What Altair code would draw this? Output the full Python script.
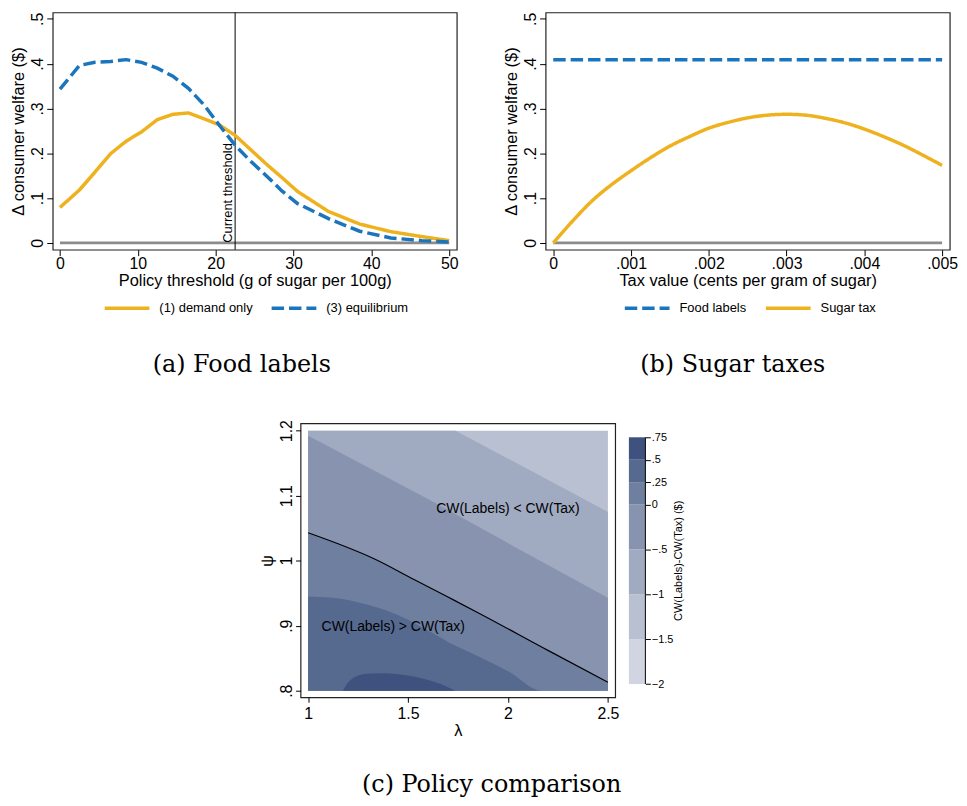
import altair as alt
import pandas as pd

# ---------------- data: panel (a) food labels ----------------
threshold = [0, 2.5, 4.5, 6.5, 8.5, 10.5, 12.5, 14.5, 16.5, 18.5, 20.5,
             22.5, 24.5, 26.5, 28.5, 30.5, 34.5, 38.5, 42.5, 46.5, 50]
demand_only = [0.079, 0.118, 0.158, 0.199, 0.227, 0.248, 0.275, 0.287, 0.290, 0.277, 0.263,
               0.240, 0.208, 0.176, 0.146, 0.115, 0.070, 0.042, 0.025, 0.014, 0.005]
equilibrium = [0.343, 0.396, 0.403, 0.405, 0.409, 0.403, 0.390, 0.372, 0.345, 0.308, 0.262,
               0.218, 0.182, 0.150, 0.116, 0.088, 0.054, 0.026, 0.011, 0.005, 0.002]
current_threshold = 22.5
series_a = ["(1) demand only", "(3) equilibrium"]

# ---------------- data: panel (b) sugar taxes ----------------
tax_value = [0.0, 0.00025, 0.0005, 0.00075, 0.001, 0.00125, 0.0015, 0.00175, 0.002, 0.00225,
             0.0025, 0.00275, 0.003, 0.00325, 0.0035, 0.00375, 0.004, 0.00425, 0.0045,
             0.00475, 0.005]
sugar_tax = [0.000, 0.049, 0.094, 0.130, 0.161, 0.190, 0.216, 0.237, 0.256, 0.269,
             0.279, 0.285, 0.287, 0.285, 0.278, 0.268, 0.254, 0.237, 0.218, 0.196, 0.173]
food_labels_tax = [0.0, 0.005]
food_labels_cw = [0.409, 0.409]
series_b = ["Food labels", "Sugar tax"]

# ---------------- data: panel (c) contour boundaries (lambda, psi) ----------------
lev_m1_lam = [1.0, 1.738, 2.5]
lev_m1_psi = [1.2, 1.2, 1.075]
lev_m05_lam = [1.0, 1.6, 2.0, 2.5]
lev_m05_psi = [1.192, 1.095, 1.027, 0.943]
lev_0_lam = [1.0, 1.15, 1.33, 1.53, 1.7, 1.85, 2.2, 2.5]
lev_0_psi = [1.043, 1.026, 1.003, 0.971, 0.944, 0.920, 0.862, 0.813]
lev_025_lam = [1.0, 1.12, 1.29, 1.46, 1.62, 1.7, 1.85, 2.0, 2.17, 2.5]
lev_025_psi = [0.945, 0.943, 0.933, 0.915, 0.889, 0.875, 0.853, 0.830, 0.800, 0.800]
lev_05_lam = [1.174, 1.207, 1.29, 1.373, 1.506, 1.638, 1.738]
lev_05_psi = [0.800, 0.815, 0.826, 0.827, 0.823, 0.813, 0.800]
lam_range = [1.0, 2.5]
psi_range = [0.8, 1.2]
region_labels = ["CW(Labels) < CW(Tax)", "CW(Labels) > CW(Tax)"]
region_lam = [2.0, 1.426]
region_psi = [1.079, 0.898]

band_lo = [-2, -1.5, -1, -0.5, 0, 0.25, 0.5]
band_hi = [-1.5, -1, -0.5, 0, 0.25, 0.5, 0.75]
band_names = ["b1", "b2", "b3", "b4", "b5", "b6", "b7"]
band_colors = ["#D0D5E1", "#B9C0D1", "#A0AAC0", "#8894AF", "#6E7FA0", "#56698F", "#3F517E"]
colorbar_ticks = [-2, -1.5, -1, -0.5, 0, 0.25, 0.5, 0.75]

BLUE = "#1A75BC"
YELLOW = "#EFB21F"
GRAY = "#8C8C8C"
FONT = "Liberation Sans"
SERIF = "DejaVu Serif"
LEADZ = "replace(format(datum.value, ''), '0.', '.')"

W_TOP, H_TOP = 406.6, 238.7

# ---------------- panel (a) ----------------
sx_a = alt.Scale(domain=[-0.93, 50.97], nice=False, zero=False)
sy_top = alt.Scale(domain=[-0.0152, 0.5143], nice=False, zero=False)
ax_y_top = alt.Axis(values=[0, 0.1, 0.2, 0.3, 0.4, 0.5], labelExpr=LEADZ, labelAngle=270,
                    labelAlign="center", labelBaseline="bottom", labelPadding=1.5,
                    title="Δ consumer welfare ($)", titlePadding=3)
ax_x_a = alt.Axis(values=[0, 10, 20, 30, 40, 50], title="Policy threshold (g of sugar per 100g)",
                  labelPadding=0, titlePadding=1)


def xa(f):
    return alt.X(f"{f}:Q", scale=sx_a, axis=ax_x_a)


def ytop(f):
    return alt.Y(f"{f}:Q", scale=sy_top, axis=ax_y_top)


def legend(lx, ly):
    return alt.Legend(title=None, orient="none", legendX=lx, legendY=ly, direction="horizontal",
                      symbolType="stroke", symbolSize=2025, symbolStrokeWidth=3.5,
                      labelFontSize=13, labelFont=FONT, labelColor="black",
                      columnPadding=12, labelOffset=8, padding=0)


CAPTION = dict(orient="bottom", anchor="middle", font=SERIF, fontSize=24,
               fontWeight="normal", color="black")

df_zero_a = pd.DataFrame({"x0": [0], "x1": [50], "y": [0]})
zero_a = alt.Chart(df_zero_a).mark_rule(color=GRAY, strokeWidth=3).encode(
    x=xa("x0"), x2="x1", y=ytop("y"))
df_thr = pd.DataFrame({"x0": [current_threshold], "y": [0], "t": ["Current threshold"]})
vline = alt.Chart(df_thr).mark_rule(color="black", strokeWidth=1).encode(x=xa("x0"))
vtext = alt.Chart(df_thr).mark_text(angle=270, align="left", baseline="bottom", fontSize=13,
                                    font=FONT, color="black").encode(
    x=xa("x0"), y=ytop("y"), text="t:N")

df_a = pd.DataFrame({
    "x0": threshold + threshold,
    "y": demand_only + equilibrium,
    "series": [series_a[0]] * len(threshold) + [series_a[1]] * len(threshold),
})
leg_a = legend(50.3, 273)
lines_a = alt.Chart(df_a).mark_line(strokeWidth=3.5, strokeCap="butt").encode(
    x=xa("x0"), y=ytop("y"),
    color=alt.Color("series:N", scale=alt.Scale(domain=series_a, range=[YELLOW, BLUE]), legend=leg_a),
    strokeDash=alt.StrokeDash("series:N", scale=alt.Scale(domain=series_a, range=[[1, 0], [12.5, 5]]),
                              legend=leg_a),
)
A = alt.layer(zero_a, vline, vtext, lines_a).properties(
    width=W_TOP, height=H_TOP,
    title=alt.Title("(a) Food labels", offset=38, dx=-13, **CAPTION))

# ---------------- panel (b) ----------------
sx_b = alt.Scale(domain=[-0.0000984, 0.0050984], nice=False, zero=False)
ax_x_b = alt.Axis(values=[0, 0.001, 0.002, 0.003, 0.004, 0.005], labelExpr=LEADZ,
                  title="Tax value (cents per gram of sugar)", labelPadding=0, titlePadding=1)


def xb(f):
    return alt.X(f"{f}:Q", scale=sx_b, axis=ax_x_b)


df_zero_b = pd.DataFrame({"x0": [0], "x1": [0.005], "y": [0]})
zero_b = alt.Chart(df_zero_b).mark_rule(color=GRAY, strokeWidth=3).encode(
    x=xb("x0"), x2="x1", y=ytop("y"))
df_b = pd.DataFrame({
    "x0": food_labels_tax + tax_value,
    "y": food_labels_cw + sugar_tax,
    "series": [series_b[0]] * len(food_labels_tax) + [series_b[1]] * len(tax_value),
})
leg_b = legend(77.7, 273)
lines_b = alt.Chart(df_b).mark_line(strokeWidth=3.5, strokeCap="butt", interpolate="monotone").encode(
    x=xb("x0"), y=ytop("y"),
    color=alt.Color("series:N", scale=alt.Scale(domain=series_b, range=[BLUE, YELLOW]), legend=leg_b),
    strokeDash=alt.StrokeDash("series:N", scale=alt.Scale(domain=series_b, range=[[12.5, 5], [1, 0]]),
                              legend=leg_b),
)
B = alt.layer(zero_b, lines_b).properties(
    width=406.7, height=H_TOP,
    title=alt.Title("(b) Sugar taxes", offset=38, dx=-15, **CAPTION))

# ---------------- panel (c) ----------------
sx_c = alt.Scale(domain=[0.9622, 2.5363], nice=False, zero=False)
sy_c = alt.Scale(domain=[0.7899, 1.2112], nice=False, zero=False)
ax_x_c = alt.Axis(values=[1, 1.5, 2, 2.5], labelExpr="format(datum.value, '')", title="λ",
                  tickSize=5, labelPadding=3, titlePadding=1)
ax_y_c = alt.Axis(values=[0.8, 0.9, 1, 1.1, 1.2], labelExpr=LEADZ, labelAngle=270,
                  labelAlign="center", labelBaseline="bottom", tickSize=5, labelPadding=1,
                  title="ψ", titlePadding=3)


def xc(f):
    return alt.X(f"{f}:Q", scale=sx_c, axis=ax_x_c)


def yc(f):
    return alt.Y(f"{f}:Q", scale=sy_c, axis=ax_y_c)


df_base = pd.DataFrame({"lam": [lam_range[0]], "lam2": [lam_range[1]],
                        "psi": [psi_range[0]], "psi2": [psi_range[1]]})
base_c = alt.Chart(df_base).mark_rect(color=band_colors[1]).encode(
    x=xc("lam"), x2="lam2", y=yc("psi"), y2="psi2")

layers_c = [base_c]
for lams, psis, col, interp in [(lev_m1_lam, lev_m1_psi, band_colors[2], "linear"),
                                (lev_m05_lam, lev_m05_psi, band_colors[3], "linear"),
                                (lev_0_lam, lev_0_psi, band_colors[4], "monotone"),
                                (lev_025_lam, lev_025_psi, band_colors[5], "monotone"),
                                (lev_05_lam, lev_05_psi, band_colors[6], "monotone")]:
    dfl = pd.DataFrame({"lam": lams, "psi": psis})
    layers_c.append(alt.Chart(dfl).mark_area(color=col, opacity=1, interpolate=interp).encode(
        x=xc("lam"), y=yc("psi"), y2=alt.datum(psi_range[0])))

df_zero_c = pd.DataFrame({"lam": lev_0_lam, "psi": lev_0_psi})
layers_c.append(alt.Chart(df_zero_c).mark_line(color="black", strokeWidth=1.2,
                                               interpolate="monotone").encode(
    x=xc("lam"), y=yc("psi")))
df_lab = pd.DataFrame({"lam": region_lam, "psi": region_psi, "label": region_labels})
layers_c.append(alt.Chart(df_lab).mark_text(font=FONT, fontSize=14, color="black").encode(
    x=xc("lam"), y=yc("psi"), text="label:N"))

C = alt.layer(*layers_c).properties(
    width=316.6, height=275.6,
    title=alt.Title("(c) Policy comparison", offset=35, dx=34, **CAPTION))

# ---------------- colour bar ----------------
sy_cb = alt.Scale(domain=[-2.147, 0.905], nice=False, zero=False)
ax_cb = alt.Axis(orient="right", values=colorbar_ticks, labelExpr=LEADZ, domain=False,
                 tickSize=5, labelFontSize=11, labelPadding=1,
                 title="CW(Labels)-CW(Tax) ($)", titleFontSize=11, titleAngle=270,
                 titleBaseline="top", titlePadding=0)
df_cb = pd.DataFrame({"lo": band_lo, "hi": band_hi, "band": band_names})
cb_rect = alt.Chart(df_cb).mark_rect().encode(
    y=alt.Y("lo:Q", scale=sy_cb, axis=ax_cb), y2="hi:Q",
    color=alt.Color("band:N", scale=alt.Scale(domain=band_names, range=band_colors), legend=None))
df_cb_line = pd.DataFrame({"lo": [band_lo[0]], "hi": [band_hi[-1]]})
cb_line = alt.Chart(df_cb_line).mark_rule(color="black", strokeWidth=1).encode(
    x=alt.value(16.6), y=alt.Y("lo:Q", scale=sy_cb, axis=ax_cb), y2="hi:Q")
CB = alt.layer(cb_rect, cb_line).properties(width=16.6, height=275.6,
                                            view=alt.ViewBackground(stroke=None))

spacer = alt.Chart(pd.DataFrame({"a": [0]})).mark_point(opacity=0, size=0).encode(
    x=alt.value(0), y=alt.value(0)).properties(width=236, height=10,
                                               view=alt.ViewBackground(stroke=None))

row1 = alt.hconcat(A, B, spacing=89, bounds="flush").resolve_scale(
    color="independent", strokeDash="independent").resolve_legend(
    color="independent", strokeDash="independent")
row2 = alt.hconcat(spacer, C, CB, spacing=13.4, bounds="flush").resolve_scale(
    color="independent")
chart = alt.vconcat(row1, row2, spacing=40.5).resolve_scale(
    color="independent", strokeDash="independent").resolve_legend(
    color="independent", strokeDash="independent").properties(
    padding={"left": 1, "top": 0, "right": 0, "bottom": 0}
).configure_view(stroke="#222222", strokeWidth=1.2).configure_axis(
    labelFont=FONT, titleFont=FONT, labelColor="black", titleColor="black", tickColor="black",
    grid=False, domain=False, labelFontSize=16, titleFontSize=16.5, titleFontWeight="normal",
    tickSize=6
)

chart.save("out.html", embed_options={"renderer": "svg", "actions": False})
